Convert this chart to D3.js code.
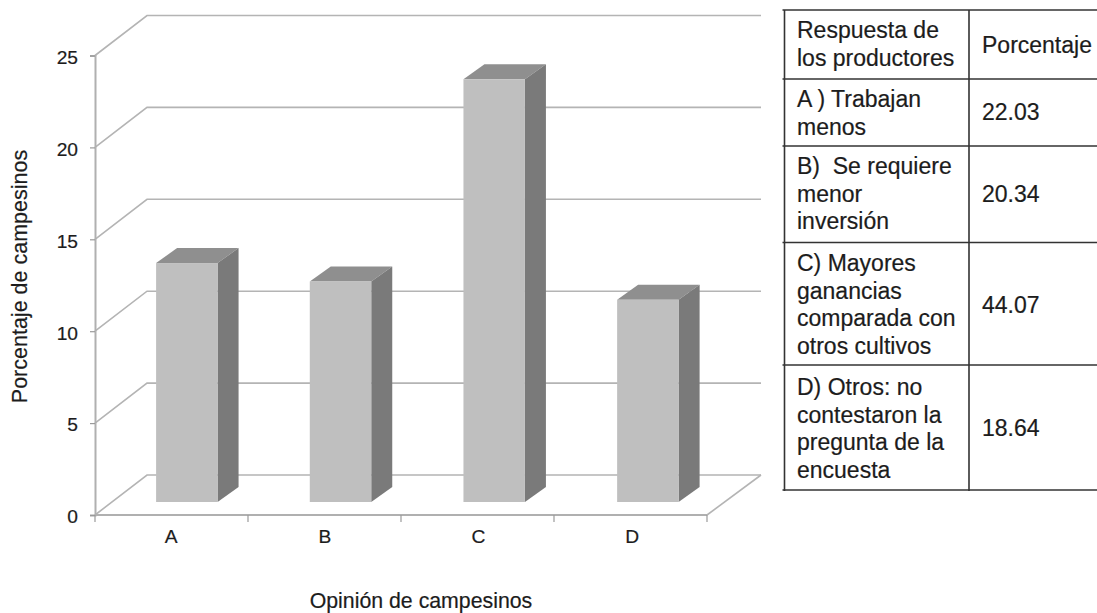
<!DOCTYPE html>
<html lang="es">
<head>
<meta charset="utf-8">
<script src="https://cdn.jsdelivr.net/npm/d3@7"></script>
<style>
  html, body { margin: 0; padding: 0; background: #fff; }
  svg { display: block; font-family: "Liberation Sans", Arial, sans-serif; }
  text { stroke: #1c1c1c; stroke-width: 0.2px; }
</style>
</head>
<body>
<svg id="chart" width="1097" height="613"></svg>
<script>
// Chart values
const categories = ["A", "B", "C", "D"];
const campesinos = [13, 12, 23, 11];
const yTicks = [0, 5, 10, 15, 20, 25];
const xTitle = "Opinión de campesinos";
const yTitle = "Porcentaje de campesinos";

// Table contents
const tableHeader = [["Respuesta de", "los productores"], "Porcentaje"];
const responseLines = [
  ["A ) Trabajan", "menos"],
  ["B)  Se requiere", "menor", "inversión"],
  ["C) Mayores", "ganancias", "comparada con", "otros cultivos"],
  ["D) Otros: no", "contestaron la", "pregunta de la", "encuesta"]
];
const percentages = ["22.03", "20.34", "44.07", "18.64"];

const svg = d3.select("#chart");

const GRID = "#b4b4b4", AXIS = "#b0b0b0", INK = "#1c1c1c";
const depth = { x: 52, y: -40 };       // wall offset of the 3D box
const barDepth = { x: 21, y: -15 };    // extrusion of each column
const barInset = { x: 15, y: -13 };    // columns stand inside the floor

const y = d3.scaleLinear().domain([0, 25]).range([515, 55.5]);
const x = d3.scaleBand().domain(categories).range([95, 709.7])
  .paddingInner(0.6).paddingOuter(0.3);
const separator = d3.scaleLinear().domain([0, categories.length]).range([95, 707]);

// Back wall gridlines with their diagonal returns to the axis
const grid = svg.append("g").attr("fill", "none").attr("stroke", GRID).attr("stroke-width", 1.6);
grid.selectAll("path").data(yTicks).join("path")
  .attr("d", v => d3.line()([
    [95, y(v)],
    [95 + depth.x, y(v) + depth.y],
    [707 + depth.x + 2, y(v) + depth.y]
  ]));
// Right edge of the floor
grid.append("path").attr("d", d3.line()([
  [707, y(0)],
  [707 + depth.x + 2, y(0) + depth.y]
]));

// Extruded columns: front, top and side faces
const barBase = y(0) + barInset.y;
const unit = y(0) - y(1);
const bars = svg.append("g").selectAll("g")
  .data(categories.map((c, i) => ({ c, v: campesinos[i] })))
  .join("g");
const barLeft = d => x(d.c) + barInset.x;
const barRight = d => barLeft(d) + x.bandwidth();
const barTop = d => barBase - d.v * unit;

bars.append("path").attr("fill", "#8f8f8f").attr("d", d => d3.line()([
  [barLeft(d), barTop(d)],
  [barLeft(d) + barDepth.x, barTop(d) + barDepth.y],
  [barRight(d) + barDepth.x, barTop(d) + barDepth.y],
  [barRight(d), barTop(d)]
]) + "Z");
bars.append("path").attr("fill", "#7a7a7a").attr("d", d => d3.line()([
  [barRight(d), barTop(d)],
  [barRight(d) + barDepth.x, barTop(d) + barDepth.y],
  [barRight(d) + barDepth.x, barBase + barDepth.y],
  [barRight(d), barBase]
]) + "Z");
bars.append("rect").attr("fill", "#bfbfbf")
  .attr("x", barLeft).attr("y", barTop)
  .attr("width", x.bandwidth()).attr("height", d => barBase - barTop(d));

// Axes
const yAxis = svg.append("g").attr("transform", "translate(95,0)")
  .call(d3.axisLeft(y).tickValues(yTicks).tickSize(5).tickPadding(12));
yAxis.selectAll("text").attr("dy", "0.41em");
const xAxis = svg.append("g").attr("transform", `translate(0,${y(0)})`)
  .call(d3.axisBottom(x).tickSize(0).tickPadding(14));
xAxis.selectAll(".tick text").attr("dx", -0.7);
// Category separators on the x axis
xAxis.selectAll(".sep").data(d3.range(categories.length + 1)).join("line").attr("class", "sep")
  .attr("x1", d => separator(d)).attr("x2", d => separator(d)).attr("y1", 0).attr("y2", 7)
  .attr("stroke", "#9a9a9a").attr("stroke-width", 1.2);

[yAxis, xAxis].forEach(a => {
  a.select(".domain").attr("stroke", AXIS).attr("stroke-width", 2);
  a.selectAll(".tick line").attr("stroke", "#9a9a9a").attr("stroke-width", 1.2);
  a.selectAll("text").attr("font-size", 19.2).attr("font-family", "Liberation Sans, Arial, sans-serif").attr("fill", INK);
});
xAxis.select(".domain").attr("d", `M95,0H707`);

// Axis titles
svg.append("text").attr("x", 421).attr("y", 607.5).attr("text-anchor", "middle")
  .attr("font-size", 21.3).attr("fill", INK).text(xTitle);
svg.append("text").attr("transform", "translate(26.5,276.5) rotate(-90)").attr("text-anchor", "middle")
  .attr("font-size", 21.5).attr("fill", INK).text(yTitle);

// Table of responses
const table = svg.append("g");
const colX = [784.5, 969], tableRight = 1097;
const rowEdges = [10, 79, 146, 242.5, 365, 490];
const firstBaselines = [38, 107, 174, 271, 395];
const valueBaselines = [53, 120, 202, 313, 436];
const lineStep = 27.6;

table.selectAll(".h").data(rowEdges).join("line").attr("class", "h")
  .attr("x1", colX[0] - 2).attr("x2", tableRight)
  .attr("y1", d => d).attr("y2", d => d)
  .attr("stroke", "#333").attr("stroke-width", 1.6);
table.selectAll(".v").data(colX).join("line").attr("class", "v")
  .attr("x1", d => d).attr("x2", d => d)
  .attr("y1", rowEdges[0]).attr("y2", rowEdges[5] + 1)
  .attr("stroke", "#333").attr("stroke-width", 1.6);

const firstCol = [tableHeader[0], ...responseLines];
const secondCol = [tableHeader[1], ...percentages];
const cells = table.append("g").attr("font-size", 23).attr("fill", INK);
cells.selectAll(".resp").data(firstCol).join("text").attr("class", "resp")
  .attr("y", (d, i) => firstBaselines[i])
  .selectAll("tspan").data(d => d).join("tspan")
  .attr("x", 797)
  .attr("dy", (d, i) => i ? lineStep : 0)
  .style("white-space", "pre")
  .text(d => d);
cells.selectAll(".pct").data(secondCol).join("text").attr("class", "pct")
  .attr("x", 982).attr("y", (d, i) => valueBaselines[i]).text(d => d);
</script>
</body>
</html>
